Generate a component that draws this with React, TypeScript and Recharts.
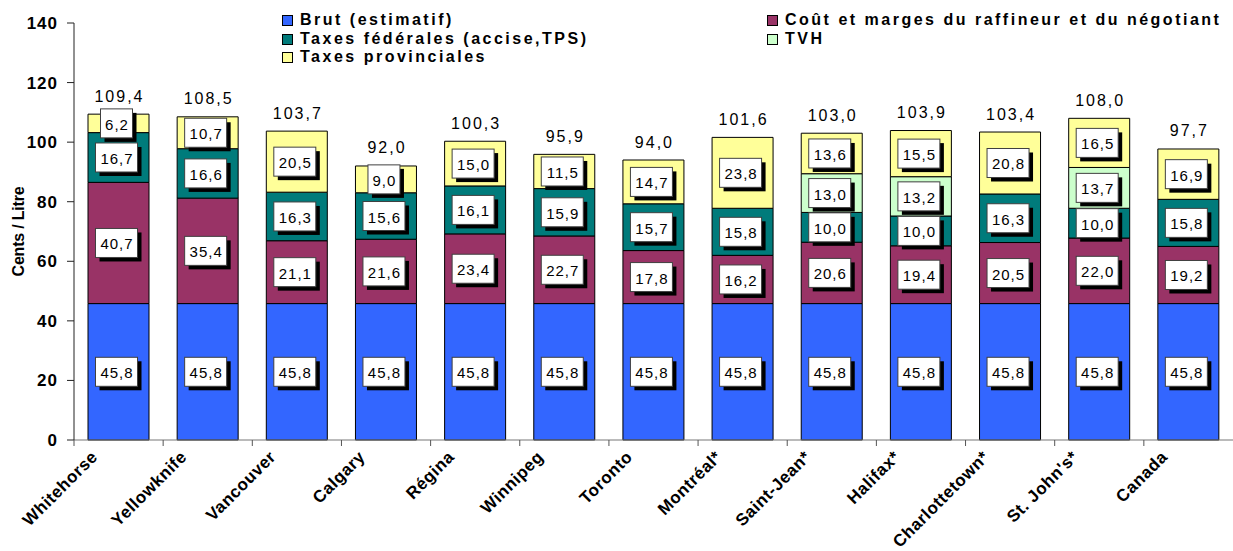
import { Bar, BarChart, LabelList, XAxis, YAxis } from "recharts";

const cities = [
  "Whitehorse",
  "Yellowknife",
  "Vancouver",
  "Calgary",
  "Régina",
  "Winnipeg",
  "Toronto",
  "Montréal*",
  "Saint-Jean*",
  "Halifax*",
  "Charlottetown*",
  "St. John's*",
  "Canada"
];

const brut = [45.8, 45.8, 45.8, 45.8, 45.8, 45.8, 45.8, 45.8, 45.8, 45.8, 45.8, 45.8, 45.8];
const coutMarges = [40.7, 35.4, 21.1, 21.6, 23.4, 22.7, 17.8, 16.2, 20.6, 19.4, 20.5, 22.0, 19.2];
const taxesFederales = [16.7, 16.6, 16.3, 15.6, 16.1, 15.9, 15.7, 15.8, 10.0, 10.0, 16.3, 10.0, 15.8];
const tvh = [null, null, null, null, null, null, null, null, 13.0, 13.2, null, 13.7, null];
const taxesProvinciales = [6.2, 10.7, 20.5, 9.0, 15.0, 11.5, 14.7, 23.8, 13.6, 15.5, 20.8, 16.5, 16.9];
const totals = [109.4, 108.5, 103.7, 92.0, 100.3, 95.9, 94.0, 101.6, 103.0, 103.9, 103.4, 108.0, 97.7];
const yTicks = [0, 20, 40, 60, 80, 100, 120, 140];

const series = [
  { key: "brut", name: "Brut (estimatif)", color: "#3366FF" },
  { key: "cout", name: "Coût et marges du raffineur et du négotiant", color: "#993366" },
  { key: "fed", name: "Taxes fédérales (accise,TPS)", color: "#007B7B" },
  { key: "tvh", name: "TVH", color: "#CCFFCC" },
  { key: "prov", name: "Taxes provinciales", color: "#FFFF99" }
];

const data = cities.map((city, i) => ({
  city,
  brut: brut[i],
  cout: coutMarges[i],
  fed: taxesFederales[i],
  tvh: tvh[i],
  prov: taxesProvinciales[i],
  total: totals[i]
}));

const W = 1233;
const H = 551;
const LEFT = 74;
const BAND = (W - LEFT) / cities.length;
const FONT = "'Liberation Sans', Arial, sans-serif";

const fmt = (v: number) => v.toFixed(1).replace(".", ",");

function ValueBox(props: any) {
  const { x, y, width, height, value } = props;
  if (value == null) return null;
  const text = fmt(Number(value));
  const digits = text.replace(",", "").length;
  const w = digits * 10 + 12;
  const h = 29;
  const cx = Number(x) + Number(width) / 2 - 2;
  const cy = Number(y) + Number(height) / 2;
  return (
    <g>
      <rect x={cx - w / 2 + 4} y={cy - h / 2 + 4} width={w} height={h} fill="#000" />
      <rect x={cx - w / 2} y={cy - h / 2} width={w} height={h} fill="#fff" stroke="#404040" strokeWidth={1} />
      <text
        x={cx + 0.5}
        y={cy + 1}
        textAnchor="middle"
        dominantBaseline="central"
        fontFamily={FONT}
        fontSize={15}
        letterSpacing={1}
        fill="#000"
      >
        {text}
      </text>
    </g>
  );
}

function TotalLabel(props: any) {
  const { x, y, width, value } = props;
  if (value == null) return null;
  return (
    <text
      x={Number(x) + Number(width) / 2 + 1}
      y={Number(y) - 18}
      textAnchor="middle"
      dominantBaseline="central"
      fontFamily={FONT}
      fontSize={16}
      letterSpacing={2}
      fill="#000"
    >
      {fmt(Number(value))}
    </text>
  );
}

function CityTick(props: any) {
  const { x, y, payload } = props;
  const bx = Number(x) - BAND / 2;
  return (
    <g>
      <line x1={bx} y1={y} x2={bx} y2={Number(y) + 6} stroke="#555" />
      <text
        transform={`translate(${Number(x) - 20},${Number(y) + 18}) rotate(-45)`}
        textAnchor="end"
        fontFamily={FONT}
        fontWeight="bold"
        fontSize={17}
        letterSpacing={0.5}
        fill="#000"
      >
        {payload.value}
      </text>
    </g>
  );
}

function LegendBlock() {
  const item = (s: (typeof series)[number], left: number, top: number) => (
    <div
      key={s.key}
      style={{
        position: "absolute",
        left,
        top,
        display: "flex",
        alignItems: "center",
        fontFamily: FONT,
        fontWeight: "bold",
        fontSize: 16,
        letterSpacing: 2.5,
        lineHeight: "18px",
        whiteSpace: "nowrap"
      }}
    >
      <span
        style={{
          display: "inline-block",
          width: 9,
          height: 9,
          background: s.color,
          border: "1px solid #000",
          marginRight: 7
        }}
      />
      {s.name}
    </div>
  );
  return (
    <div style={{ position: "absolute", left: 0, top: 0 }}>
      {item(series[0], 282, 11)}
      {item(series[2], 282, 30)}
      {item(series[4], 282, 48)}
      {item(series[1], 767, 11)}
      {item(series[3], 767, 30)}
    </div>
  );
}

export default function App() {
  return (
    <div style={{ position: "absolute", left: 0, top: 0, width: W, height: H, background: "#fff" }}>
      <BarChart width={W} height={H} data={data} margin={{ top: 23, right: 0, left: 0, bottom: 0 }}>
        <XAxis
          dataKey="city"
          height={111}
          interval={0}
          tickSize={0}
          tickMargin={0}
          tickLine={false}
          axisLine={{ stroke: "#777" }}
          tick={<CityTick />}
        />
        <YAxis
          width={LEFT}
          domain={[0, 140]}
          ticks={yTicks}
          tickSize={7}
          tickMargin={9}
          axisLine={{ stroke: "#222" }}
          tickLine={{ stroke: "#222" }}
          tick={{ fontFamily: FONT, fontWeight: "bold", fontSize: 17, letterSpacing: 1, fill: "#000" }}
          label={{
            value: "Cents / Litre",
            angle: -90,
            position: "insideLeft",
            offset: 18,
            style: {
              fontFamily: FONT,
              fontWeight: "bold",
              fontSize: 16,
              letterSpacing: -0.2,
              fill: "#000",
              textAnchor: "middle"
            }
          }}
        />
        {series.map((s) => (
          <Bar
            key={s.key}
            dataKey={s.key}
            name={s.name}
            stackId="a"
            fill={s.color}
            stroke="#000"
            strokeWidth={1}
            barSize={61}
            isAnimationActive={false}
          >
            <LabelList dataKey={s.key} content={<ValueBox />} />
            {s.key === "prov" && <LabelList dataKey="total" content={<TotalLabel />} />}
          </Bar>
        ))}
      </BarChart>
      <LegendBlock />
    </div>
  );
}
